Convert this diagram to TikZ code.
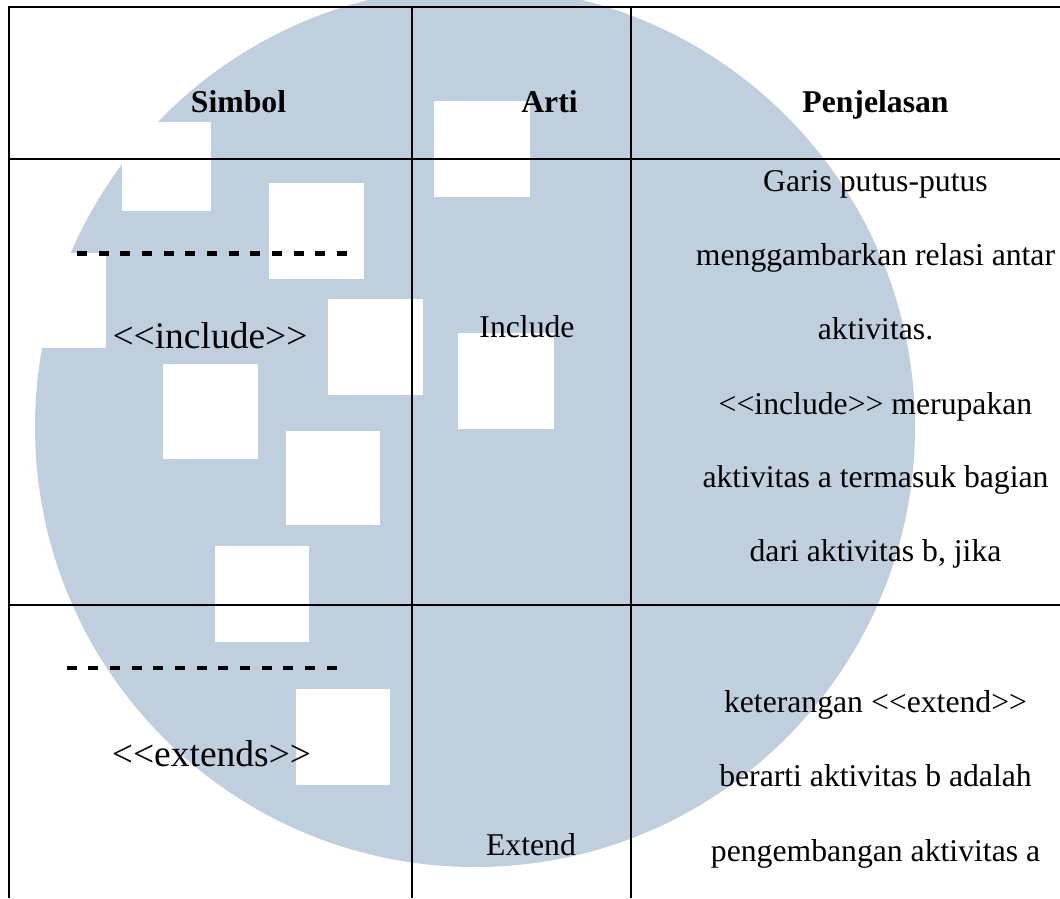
\documentclass[tikz,border=0pt]{standalone}
\usepackage{fontspec}
\setmainfont{Liberation Serif}
\definecolor{seal}{RGB}{192,207,221}
\begin{document}
\begin{tikzpicture}[x=1pt,y=-1pt,
  rule/.style={line width=2pt, black},
  relline/.style={line width=4.5pt, black, dash pattern=on 10pt off 11.67pt},
  cell/.style={anchor=base, inner sep=0pt, font=\fontsize{31.7}{38}\selectfont},
  head/.style={anchor=base, inner sep=0pt, font=\fontsize{31.7}{38}\selectfont\bfseries},
  sym/.style={anchor=base, inner sep=0pt, font=\fontsize{37.5}{45}\selectfont},
  gap/.style={fill=white}]
\useasboundingbox (0,0) rectangle (1060,898);
\fill[white] (0,0) rectangle (1060,898);

% watermark seal: disc with square cut-outs
\fill[seal] (475,427) circle (440pt);
\fill[gap] (0,253) rectangle (106,348);
\fill[gap] (122,122) rectangle (211,211);
\fill[gap] (269,183) rectangle (364,279);
\fill[gap] (434,101) rectangle (530,197);
\fill[gap] (328,299) rectangle (423,395);
\fill[gap] (458,333) rectangle (554,429);
\fill[gap] (163,364) rectangle (258,459);
\fill[gap] (286,431) rectangle (380,525);
\fill[gap] (215,546) rectangle (309,642);
\fill[gap] (296,689) rectangle (390,785);

% table rules
\draw[rule] (9,7.3) -- (1060,7.3);
\draw[rule] (9,159) -- (1060,159);
\draw[rule] (9,605) -- (1060,605);
\draw[rule] (9,6.3) -- (9,898);
\draw[rule] (412,6.3) -- (412,898);
\draw[rule] (631,6.3) -- (631,898);

% header
\node[head] (hsim) at (238.5,112) {Simbol};
\node[head] (hart) at (549.5,112) {Arti};
\node[head] (hpen) at (875.5,112) {Penjelasan};

% include row
\coordinate (incA) at (77,253.7);
\coordinate (incB) at (347,253.7);
\draw[relline] (incA) -- (incB);
\node[sym] (incsym) at (210,348) {<{}<include>{}>};
\node[cell] (incart) at (527,337) {Include};
\node[cell] (inc1) at (875.5,191) {Garis putus-putus};
\node[cell] (inc2) at (875.5,265) {menggambarkan relasi antar};
\node[cell] (inc3) at (875.5,339.5) {aktivitas.};
\node[cell] (inc4) at (875.5,414) {<{}<include>{}> merupakan};
\node[cell] (inc5) at (875.5,487) {aktivitas a termasuk bagian};
\node[cell] (inc6) at (875.5,561) {dari aktivitas b, jika};

% extend row
\coordinate (extA) at (66.7,668);
\coordinate (extB) at (337,668);
\draw[relline] (extA) -- (extB);
\node[sym] (extsym) at (211.5,766) {<{}<extends>{}>};
\node[cell] (extart) at (531,855) {Extend};
\node[cell] (ext1) at (875.5,712) {keterangan <{}<extend>{}>};
\node[cell] (ext2) at (875.5,786) {berarti aktivitas b adalah};
\node[cell] (ext3) at (875.5,861) {pengembangan aktivitas a};
\end{tikzpicture}
\end{document}
